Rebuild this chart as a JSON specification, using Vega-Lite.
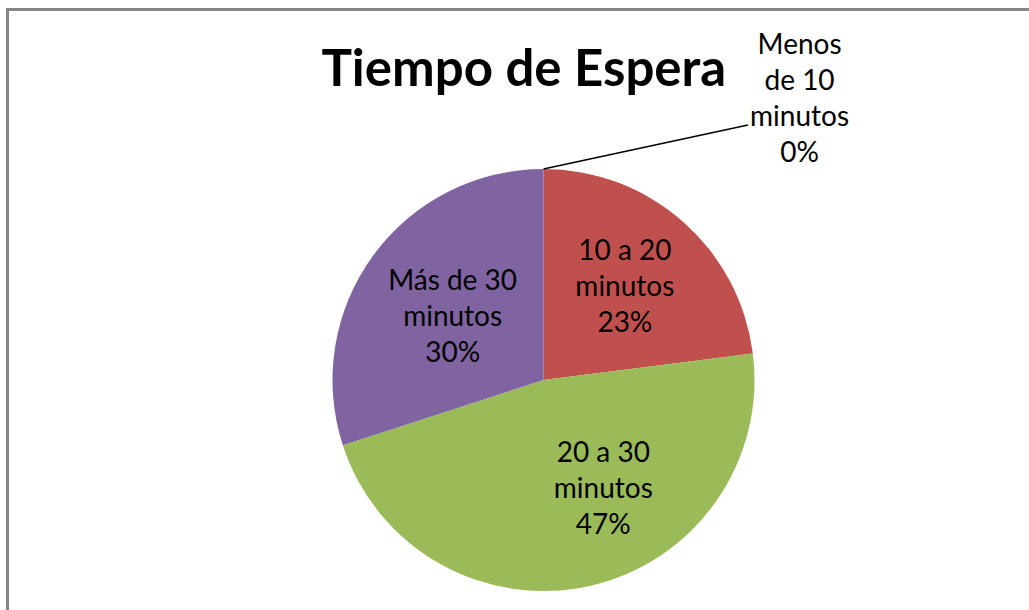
{
  "$schema": "https://vega.github.io/schema/vega-lite/v6.json",
  "width": 1024,
  "height": 603,
  "autosize": {"type": "none"},
  "padding": {"left": 7.5, "top": 9.5, "right": 0, "bottom": 0},
  "background": "white",
  "view": {"stroke": "#868686", "strokeWidth": 3},
  "config": {"view": {"stroke": "#868686", "strokeWidth": 3}},
  "params": [
    {"name": "cx", "value": 536},
    {"name": "cy", "value": 370.5},
    {"name": "R", "value": 211}
  ],
  "title": {
    "text": "Tiempo de Espera",
    "font": "Lato",
    "fontSize": 51,
    "fontWeight": "bold",
    "color": "black",
    "anchor": "start",
    "frame": "group",
    "baseline": "alphabetic",
    "offset": -127.5,
    "dx": 314
  },
  "data": {
    "values": [
      {"categoria": "Menos de 10 minutos", "orden": 1, "porcentaje": 0, "etiqueta": "Menos\nde 10\nminutos\n0%"},
      {"categoria": "10 a 20 minutos", "orden": 2, "porcentaje": 23, "etiqueta": "10 a 20\nminutos\n23%"},
      {"categoria": "20 a 30 minutos", "orden": 3, "porcentaje": 47, "etiqueta": "20 a 30\nminutos\n47%"},
      {"categoria": "Más de 30 minutos", "orden": 4, "porcentaje": 30, "etiqueta": "Más de 30\nminutos\n30%"}
    ]
  },
  "transform": [
    {"stack": "porcentaje", "groupby": [], "sort": [{"field": "orden", "order": "ascending"}], "as": ["inicio", "fin"]},
    {"calculate": "(datum.inicio + datum.fin) / 2", "as": "medio"}
  ],
  "layer": [
    {
      "mark": {"type": "arc", "x": {"expr": "cx"}, "y": {"expr": "cy"}, "outerRadius": {"expr": "R"}},
      "encoding": {
        "theta": {"field": "inicio", "type": "quantitative", "scale": {"domain": [0, 100]}},
        "theta2": {"field": "fin"},
        "color": {
          "field": "categoria",
          "type": "nominal",
          "scale": {
            "domain": ["Menos de 10 minutos", "10 a 20 minutos", "20 a 30 minutos", "Más de 30 minutos"],
            "range": ["#4F81BD", "#C0504D", "#9BBB59", "#8064A2"]
          },
          "legend": null
        }
      }
    },
    {
      "transform": [{"filter": "datum.orden == 2"}],
      "mark": {"type": "text", "x": {"expr": "cx"}, "y": {"expr": "cy"}, "radius": 123, "dy": -36, "font": "Lato", "fontSize": 28, "lineHeight": 36, "lineBreak": "\n", "align": "center", "baseline": "middle", "color": "black"},
      "encoding": {
        "theta": {"field": "medio", "type": "quantitative", "scale": {"domain": [0, 100]}},
        "text": {"field": "etiqueta", "type": "nominal"}
      }
    },
    {
      "transform": [{"filter": "datum.orden == 3"}],
      "mark": {"type": "text", "x": {"expr": "cx"}, "y": {"expr": "cy"}, "radius": 125, "dy": -36, "thetaOffset": -0.279, "font": "Lato", "fontSize": 28, "lineHeight": 36, "lineBreak": "\n", "align": "center", "baseline": "middle", "color": "black"},
      "encoding": {
        "theta": {"field": "medio", "type": "quantitative", "scale": {"domain": [0, 100]}},
        "text": {"field": "etiqueta", "type": "nominal"}
      }
    },
    {
      "transform": [{"filter": "datum.orden == 4"}],
      "mark": {"type": "text", "x": {"expr": "cx"}, "y": {"expr": "cy"}, "radius": 110, "dy": -36, "thetaOffset": -0.03, "font": "Lato", "fontSize": 28, "lineHeight": 36, "lineBreak": "\n", "align": "center", "baseline": "middle", "color": "black"},
      "encoding": {
        "theta": {"field": "medio", "type": "quantitative", "scale": {"domain": [0, 100]}},
        "text": {"field": "etiqueta", "type": "nominal"}
      }
    },
    {
      "transform": [{"filter": "datum.orden == 1"}],
      "mark": {"type": "text", "x": {"expr": "cx"}, "y": {"expr": "cy"}, "radius": 381, "dy": -52, "thetaOffset": 0.737, "font": "Lato", "fontSize": 28, "lineHeight": 36, "lineBreak": "\n", "align": "center", "baseline": "middle", "color": "black"},
      "encoding": {
        "theta": {"field": "medio", "type": "quantitative", "scale": {"domain": [0, 100]}},
        "text": {"field": "etiqueta", "type": "nominal"}
      }
    },
    {
      "transform": [{"filter": "datum.orden == 1"}],
      "mark": {"type": "rule", "color": "black", "strokeWidth": 1.3},
      "encoding": {
        "x": {"value": {"expr": "cx"}},
        "y": {"value": {"expr": "cy - R"}},
        "x2": {"value": {"expr": "cx + 204.5"}},
        "y2": {"value": {"expr": "cy - 255"}}
      }
    }
  ]
}
